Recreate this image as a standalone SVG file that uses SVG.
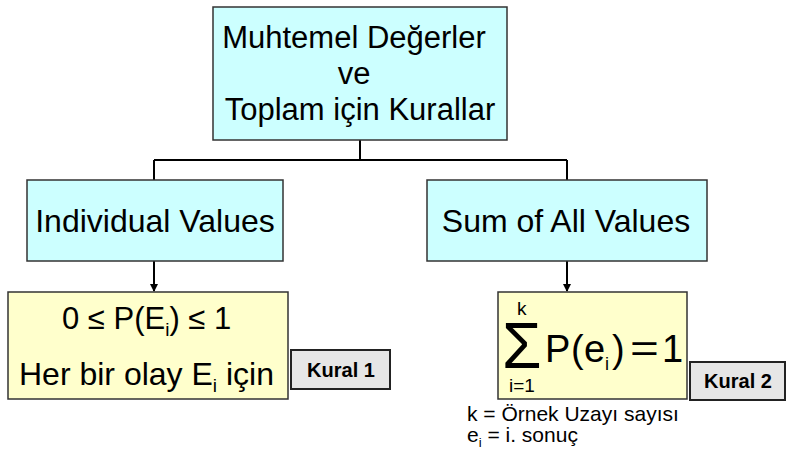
<svg xmlns="http://www.w3.org/2000/svg" width="787" height="454" viewBox="0 0 787 454">
<style>
.box{stroke:#333;stroke-width:1.5}
.cyan{fill:#ccffff}
.yel{fill:#ffffcc}
.gray{fill:#e6e6e6;stroke:#222;stroke-width:2}
.t{font-family:"Liberation Sans",Arial,sans-serif;fill:#000}
.big{font-size:31px}
.big2{font-size:32px}
.lab{font-size:20px;font-weight:bold}
.note{font-size:21px}
.conn{stroke:#000;stroke-width:2;fill:none}
</style>
<defs>
<marker id="ah" markerWidth="8" markerHeight="8" refX="7" refY="4" orient="auto" markerUnits="userSpaceOnUse">
<path d="M0,0 L8,4 L0,8 Z" fill="#000"/>
</marker>
</defs>
<g id="connectors">
<path class="conn" d="M360 140 V160 M154 160 H567 M154 160 V180 M567 160 V180"/>
<line class="conn" x1="154" y1="261" x2="154" y2="291" marker-end="url(#ah)"/>
<line class="conn" x1="567" y1="261" x2="567" y2="291" marker-end="url(#ah)"/>
</g>
<g id="top">
<rect class="box cyan" x="213" y="7" width="294" height="133"/>
<text class="t big" text-anchor="middle"><tspan x="354" y="48">Muhtemel Değerler</tspan><tspan x="354" y="84">ve</tspan><tspan x="360" y="120">Toplam için Kurallar</tspan></text>
</g>
<g id="individual">
<rect class="box cyan" x="27" y="180" width="256" height="81"/>
<text class="t big2" x="155" y="232" text-anchor="middle">Individual Values</text>
</g>
<g id="sum">
<rect class="box cyan" x="427" y="180" width="280" height="81"/>
<text class="t big2" x="566" y="232" text-anchor="middle">Sum of All Values</text>
</g>
<g id="rule1">
<rect class="box yel" x="8" y="292" width="280" height="107"/>
<text class="t big" x="62" y="329">0 ≤ P(E<tspan font-size="19" dy="7">i</tspan><tspan dy="-7">) ≤ 1</tspan></text>
<text class="t big2" x="19" y="385">Her bir olay E<tspan font-size="19" dy="7">i</tspan><tspan dy="-7"> için</tspan></text>
</g>
<g id="kural1">
<rect class="gray" x="291" y="350" width="99" height="39"/>
<text class="t lab" x="341" y="377" text-anchor="middle">Kural 1</text>
</g>
<g id="rule2">
<rect class="box yel" x="498" y="292" width="189" height="107"/>
<text class="t" font-size="64" x="502" y="368">Σ</text>
<text class="t" font-size="19" x="517" y="315">k</text>
<text class="t" font-size="19" x="509" y="392">i=1</text>
<text class="t" font-size="38"><tspan x="545" y="362">P</tspan><tspan x="571" y="362">(</tspan><tspan x="584" y="362">e</tspan><tspan x="605" y="370" font-size="18">i</tspan><tspan x="612" y="362">)</tspan><tspan x="662" y="362">1</tspan></text>
<text class="t" font-size="38" transform="translate(630,362) scale(1.3,1)" x="0" y="0">=</text>
</g>
<g id="kural2">
<rect class="gray" x="690" y="362" width="95" height="38"/>
<text class="t lab" x="738" y="388" text-anchor="middle">Kural 2</text>
</g>
<g id="notes">
<text class="t note" x="467" y="421">k = Örnek Uzayı sayısı</text>
<text class="t note" x="467" y="442">e<tspan font-size="13" dy="5">i</tspan><tspan dy="-5"> = i. sonuç</tspan></text>
</g>
</svg>
